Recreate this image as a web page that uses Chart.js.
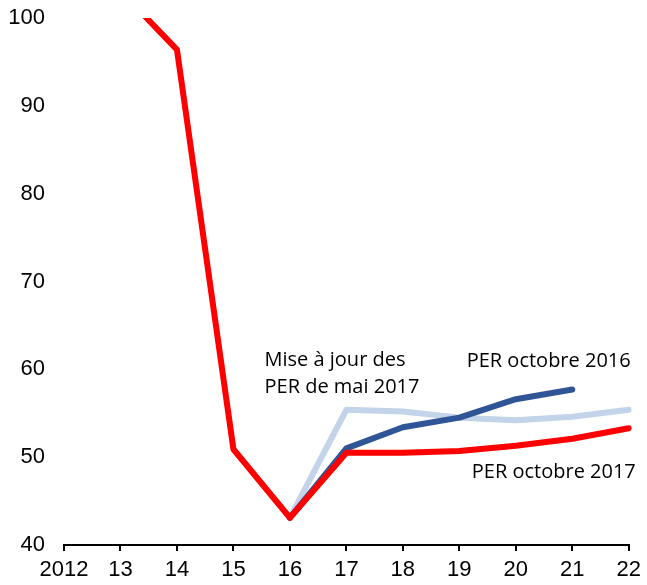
<!DOCTYPE html>
<html>
<head>
<meta charset="utf-8">
<script src="https://cdn.jsdelivr.net/npm/chart.js@4"></script>
<style>
  html, body { margin: 0; padding: 0; background: #fff; }
  #wrap { width: 647px; height: 585px; }
</style>
</head>
<body>
<div id="wrap"><canvas id="perChart" width="647" height="585"></canvas></div>
<script>
// années
const years = ['2012', '13', '14', '15', '16', '17', '18', '19', '20', '21', '22'];

// séries
const perOct2017 = [110, 103.1, 96.4, 50.9, 43.1, 50.5, 50.5, 50.7, 51.3, 52.1, 53.3];
const perOct2016 = [null, null, null, null, 43.1, 51.0, 53.4, 54.5, 56.6, 57.7, null];
const perMai2017 = [null, null, null, null, 43.1, 55.4, 55.2, 54.5, 54.2, 54.6, 55.4];

const yTicks = [40, 50, 60, 70, 80, 90, 100];

const txtFont = '20px "Open Sans", Lato, sans-serif';
const axisFont = { family: '"Liberation Sans", Arial, sans-serif', size: 22 };

// Textes posés sur le graphique
const annotations = {
    id: 'annotations',
    afterDatasetsDraw(chart) {
        const ctx = chart.ctx;
        const x = chart.scales.x, y = chart.scales.y;
        ctx.save();
        ctx.fillStyle = '#000';
        ctx.font = txtFont;
        ctx.textBaseline = 'middle';
        ctx.textAlign = 'left';
        ctx.fillText('Mise à jour des', x.getPixelForValue(3.55), y.getPixelForValue(61.0));
        ctx.fillText('PER de mai 2017', x.getPixelForValue(3.55), y.getPixelForValue(58.0));
        ctx.fillText('PER octobre 2016', x.getPixelForValue(7.13), y.getPixelForValue(60.95));
        ctx.fillText('PER octobre 2017', x.getPixelForValue(7.22), y.getPixelForValue(48.25));
        ctx.restore();
    }
};

document.addEventListener('DOMContentLoaded', function() {
    const ctx = document.getElementById('perChart').getContext('2d');
    const perChart = new Chart(ctx, {
        type: 'line',
        data: {
            labels: years,
            datasets: [{
                label: 'Mise à jour des PER de mai 2017',
                data: perMai2017,
                borderColor: '#c3d3ea',
                borderWidth: 6,
                order: 3
            }, {
                label: 'PER octobre 2016',
                data: perOct2016,
                borderColor: '#2f5597',
                borderWidth: 6,
                order: 2
            }, {
                label: 'PER octobre 2017',
                data: perOct2017,
                borderColor: '#ff0000',
                borderWidth: 6,
                order: 1
            }]
        },
        options: {
            responsive: false,
            animation: false,
            layout: { padding: { top: 18, right: 17, left: 0, bottom: 0 } },
            elements: {
                point: { radius: 0 },
                line: { tension: 0, borderJoinStyle: 'round', borderCapStyle: 'round', fill: false }
            },
            plugins: {
                legend: { display: false },
                tooltip: { enabled: false }
            },
            scales: {
                x: {
                    offset: false,
                    grid: { drawOnChartArea: false, drawTicks: true, tickLength: 6, color: '#000', lineWidth: 2 },
                    border: { display: true, color: '#000', width: 2 },
                    ticks: { color: '#000', font: axisFont, padding: 6, maxRotation: 0, autoSkip: false },
                    afterFit(scale) { scale.height = 40; }
                },
                y: {
                    min: 40,
                    max: 100,
                    grid: { display: false, drawTicks: false },
                    border: { display: false },
                    afterBuildTicks(scale) { scale.ticks = yTicks.map(v => ({ value: v })); },
                    ticks: { color: '#000', font: axisFont, padding: 19 },
                    afterFit(scale) {
                        scale.width = 64;
                        scale.paddingTop = 0;
                        scale.paddingBottom = 0;
                    }
                }
            }
        },
        plugins: [annotations]
    });
});
</script>
</body>
</html>
